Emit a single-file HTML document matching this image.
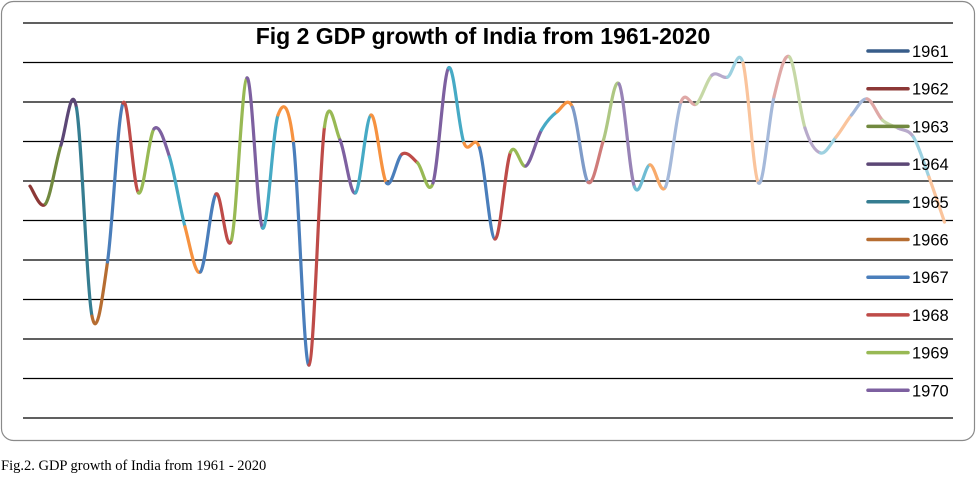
<!DOCTYPE html>
<html><head><meta charset="utf-8"><style>
body{margin:0;background:#fff;width:977px;height:475px;overflow:hidden;font-family:"Liberation Sans",sans-serif}
</style></head><body>
<svg id="chart" width="977" height="475" viewBox="0 0 977 475" xmlns="http://www.w3.org/2000/svg">
<rect x="1.5" y="1.5" width="973" height="439" rx="12" fill="#fff" stroke="#8a8a8a" stroke-width="1.2"/>
<g id="grid"></g>
<text x="483" y="44" text-anchor="middle" font-family="Liberation Sans, sans-serif" font-weight="bold" font-size="23" fill="#000">Fig 2 GDP growth of India from 1961-2020</text>
<g id="series"></g>
<g id="legend"></g>
<text x="1" y="470" font-family="Liberation Serif, serif" font-size="14.5" fill="#000">Fig.2. GDP growth of India from 1961 - 2020</text>
</svg>
<script>
const years = [];
for (let y = 1961; y <= 2020; y++) years.push(y);
const values = [5.87,5.42,6.91,7.85,2.58,3.95,7.97,5.70,7.32,6.61,
4.84,3.70,5.67,4.51,8.61,4.81,7.67,6.96,1.34,7.37,
7.04,5.70,7.67,5.95,6.68,6.46,5.95,8.86,6.96,6.84,
4.53,6.73,6.38,7.29,7.75,7.87,5.97,7.04,8.46,5.85,
6.41,5.85,8.00,7.95,8.68,8.63,8.99,5.95,8.13,9.14,
7.34,6.71,7.11,7.67,8.08,7.54,7.34,7.11,6.10,4.96];
const gridTicks = [0,1,2,3,4,5,6,7,8,9,10];
const legendYears = [1961,1962,1963,1964,1965,1966,1967,1968,1969,1970];

const NS = "http://www.w3.org/2000/svg";
const xL = 30, xR = 944.5, yTop = 23, yBot = 418, vMax = 10, vMin = 0;
const xs = i => xL + (xR - xL) * i / (years.length - 1);
const ys = v => yBot - (v - vMin) / (vMax - vMin) * (yBot - yTop);
const dark = ["#385D8A","#8C3836","#71893F","#5C4776","#357D91","#B66D31"];
const normal = ["#4A7EBB","#BE4B48","#98B954","#7D60A0","#46AAC5","#F69240"];
const medium = ["#7E9BC8","#CF7B79","#AEC783","#9883B6","#6FBCD3","#F8AA6A"];
const light = ["#A5B9DA","#DFA8A6","#C6D8A6","#B8AACB","#9DD1E0","#FAC49C"];
function colorFor(i){
  const t = Math.floor(i/6);
  const pal = t === 0 ? dark : (t <= 5 ? normal : (t === 6 ? medium : light));
  return pal[i%6];
}

const grid = document.getElementById('grid');
gridTicks.forEach(t => {
  const l = document.createElementNS(NS,'line');
  
  
  l.setAttribute('x1',23); l.setAttribute('x2',953);
  l.setAttribute('y1',ys(t)); l.setAttribute('y2',ys(t));
  l.setAttribute('stroke','#000'); l.setAttribute('stroke-width','1.2');
  grid.appendChild(l);
});

const series = document.getElementById('series');
const pts = values.map((v,i)=>[xs(i), ys(v)]);
for (let i = 1; i < pts.length; i++) {
  const p0 = pts[Math.max(i-2,0)], p1 = pts[i-1], p2 = pts[i], p3 = pts[Math.min(i+1,pts.length-1)];
  const t = 1/6;
  const c1 = [p1[0]+(p2[0]-p0[0])*t, p1[1]+(p2[1]-p0[1])*t];
  const c2 = [p2[0]-(p3[0]-p1[0])*t, p2[1]-(p3[1]-p1[1])*t];
  const path = document.createElementNS(NS,'path');
  
  
  path.setAttribute('d',`M${p1[0]},${p1[1]} C${c1[0]},${c1[1]} ${c2[0]},${c2[1]} ${p2[0]},${p2[1]}`);
  path.setAttribute('fill','none');
  path.setAttribute('stroke',colorFor(i));
  path.setAttribute('stroke-width','3.2');
  path.setAttribute('stroke-linecap','round');
  series.appendChild(path);
}

const legend = document.getElementById('legend');
legendYears.forEach((yr,k) => {
  const y = 51 + k * 37.7;
  const g = document.createElementNS(NS,'g');
  
  
  const l = document.createElementNS(NS,'line');
  l.setAttribute('x1',868); l.setAttribute('x2',908);
  l.setAttribute('y1',y); l.setAttribute('y2',y);
  l.setAttribute('stroke',colorFor(k)); l.setAttribute('stroke-width','3.5');
  l.setAttribute('stroke-linecap','round');
  const tx = document.createElementNS(NS,'text');
  tx.setAttribute('x',912); tx.setAttribute('y',y+6);
  tx.setAttribute('font-size','16.5');
  tx.setAttribute('font-family','Liberation Sans, sans-serif');
  tx.textContent = yr;
  g.appendChild(l); g.appendChild(tx);
  legend.appendChild(g);
});
</script>
</body></html>
